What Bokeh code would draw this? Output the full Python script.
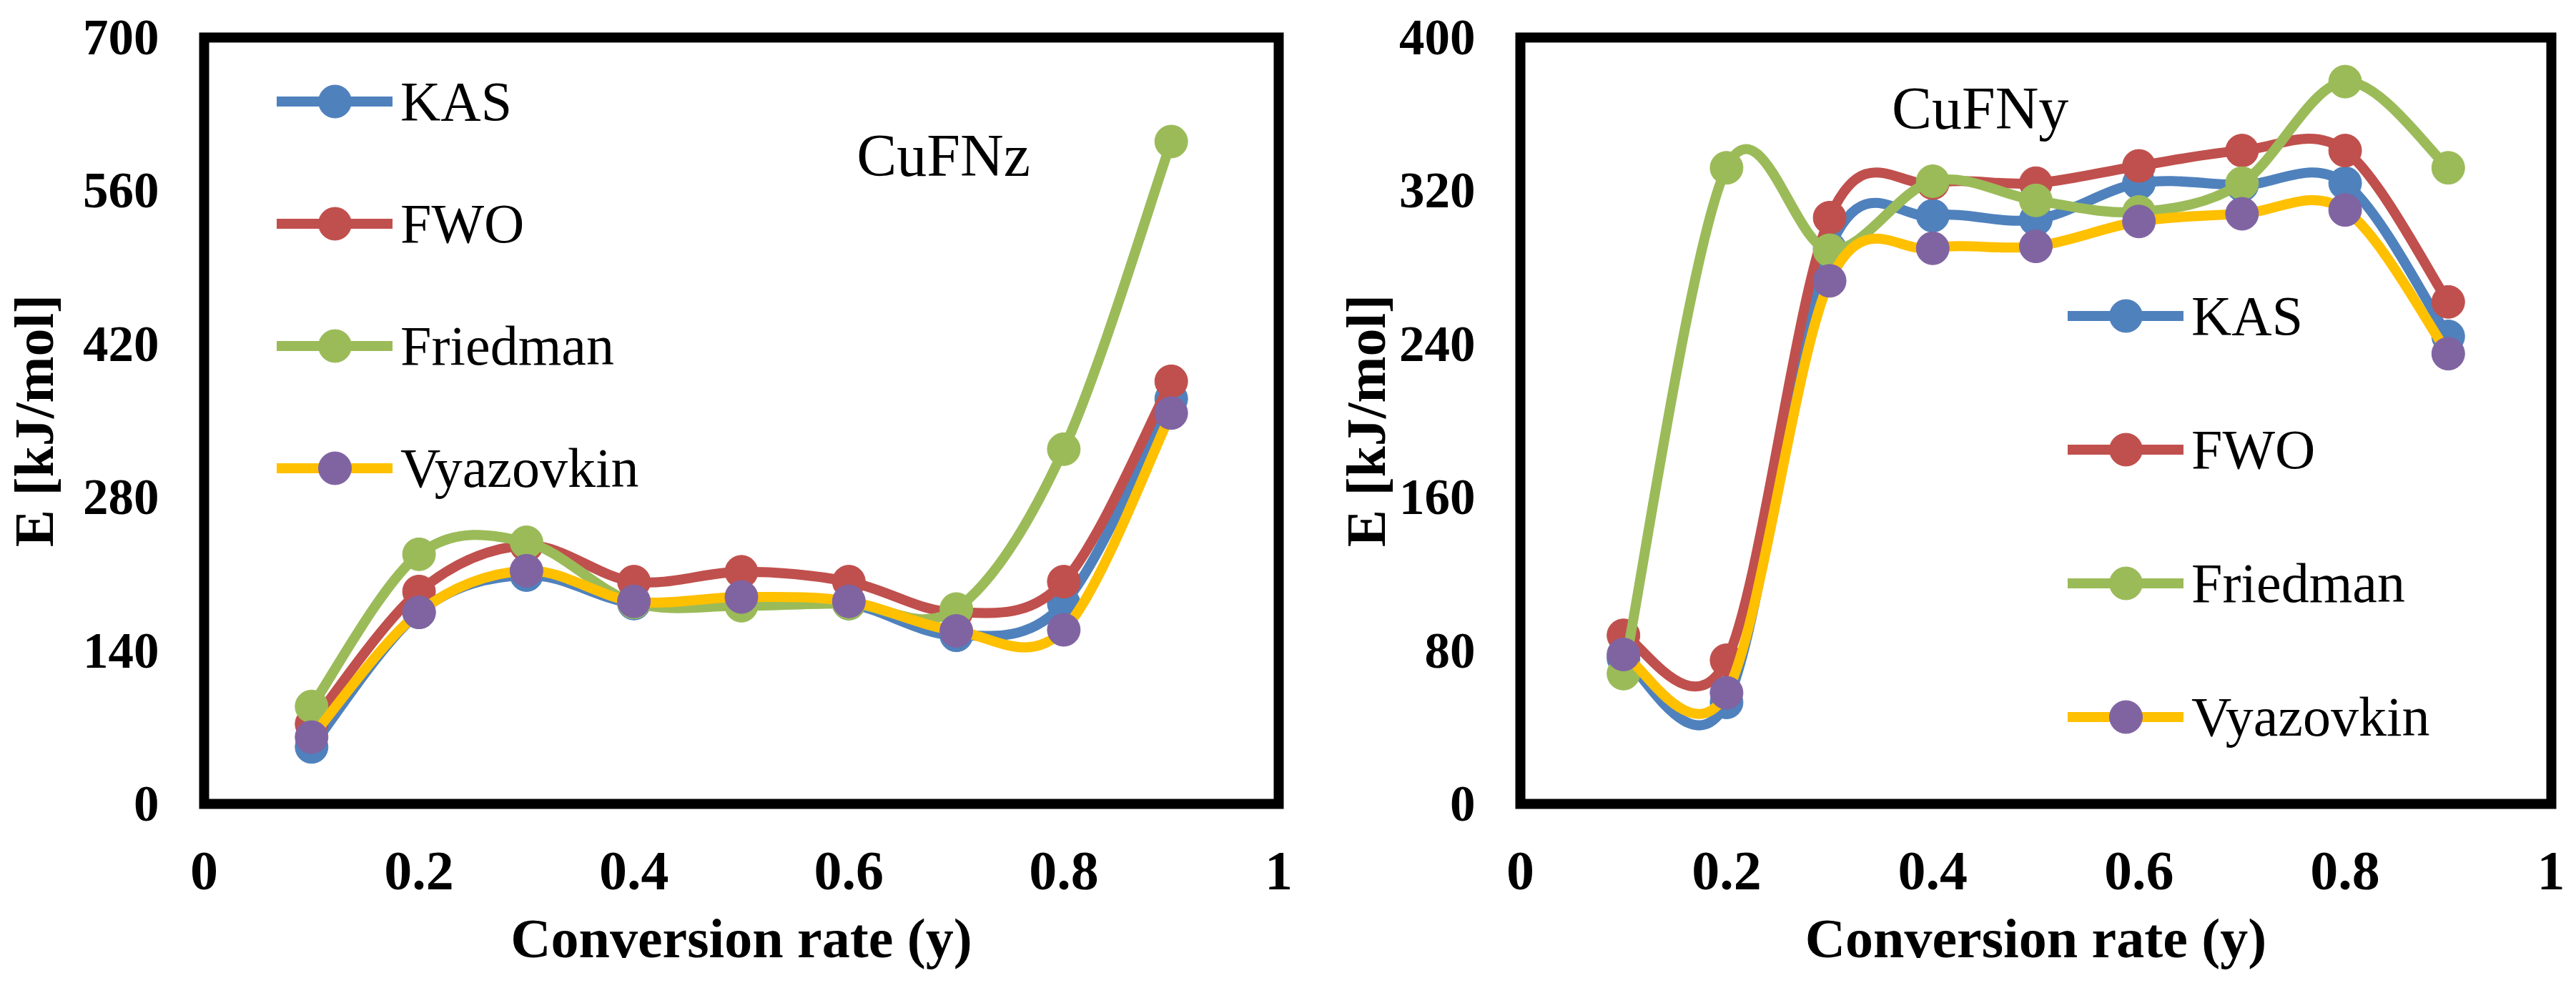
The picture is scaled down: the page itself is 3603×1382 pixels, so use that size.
import numpy as np
from bokeh.plotting import figure
from bokeh.models import Range1d, FixedTicker, Legend, LegendItem, Label
from bokeh.layouts import row
from bokeh.embed import file_html
from bokeh.resources import INLINE

# ---------------- data ----------------
conversion = [0.1, 0.2, 0.3, 0.4, 0.5, 0.6, 0.7, 0.8, 0.9]
series_names = ["KAS", "FWO", "Friedman", "Vyazovkin"]

# CuFNz (left panel)
cufnz_kas = [52, 175, 209, 183, 186, 183, 154, 183, 370]
cufnz_fwo = [73, 194, 236, 203, 212, 203, 175, 203, 386]
cufnz_friedman = [89, 228, 239, 184, 181, 183, 178, 324, 605]
cufnz_vyazovkin = [61, 175, 213, 185, 189, 185, 158, 159, 357]

# CuFNy (right panel)
cufny_kas = [76, 53, 290, 307, 305, 324, 323, 324, 244]
cufny_fwo = [88, 75, 306, 324, 324, 333, 341, 341, 262]
cufny_friedman = [68, 332, 289, 325, 315, 309, 324, 377, 332]
cufny_vyazovkin = [78, 58, 273, 290, 291, 304, 308, 310, 235]

x_ticks = [0, 0.2, 0.4, 0.6, 0.8, 1]
x_tick_labels = ["0", "0.2", "0.4", "0.6", "0.8", "1"]
cufnz_y_ticks = [0, 140, 280, 420, 560, 700]
cufny_y_ticks = [0, 80, 160, 240, 320, 400]

x_title = "Conversion rate (y)"
y_title = "E [kJ/mol]"
panel_labels = ["CuFNz", "CuFNy"]

line_colors = ["#4F81BD", "#C0504D", "#9BBB59", "#FFC000"]
marker_colors = ["#4F81BD", "#C0504D", "#9BBB59", "#8064A2"]

SERIF = "Liberation Serif"
LINE_W = 14
MARKER = 46


def smooth_segments(xs, ys):
    """Excel-like smoothed line: cubic Bezier segments (Catmull-Rom control points)."""
    x = np.asarray(xs, float)
    y = np.asarray(ys, float)
    xp = np.concatenate([[x[0]], x, [x[-1]]])
    yp = np.concatenate([[y[0]], y, [y[-1]]])
    n = len(x)
    return dict(
        x0=x[:-1], y0=y[:-1], x1=x[1:], y1=y[1:],
        cx0=x[:-1] + (xp[2:n + 1] - xp[0:n - 1]) / 6.0,
        cy0=y[:-1] + (yp[2:n + 1] - yp[0:n - 1]) / 6.0,
        cx1=x[1:] - (xp[3:n + 2] - xp[1:n]) / 6.0,
        cy1=y[1:] - (yp[3:n + 2] - yp[1:n]) / 6.0,
    )


def make_panel(width, ymax, yticks, series, label_text, label_pos, legend_loc,
               legend_spacing, borders):
    bl, br, bt, bb = borders
    p = figure(width=width, height=1366,
               x_range=Range1d(0, 1), y_range=Range1d(0, ymax),
               output_backend="svg", toolbar_location=None,
               min_border_left=bl, min_border_right=br,
               min_border_top=bt, min_border_bottom=bb,
               x_axis_label=x_title, y_axis_label=y_title)
    p.xgrid.visible = False
    p.ygrid.visible = False
    p.background_fill_color = "white"
    p.border_fill_color = "white"
    p.outline_line_color = "black"
    p.outline_line_width = 14
    p.outline_line_join = "miter"

    p.xaxis.ticker = FixedTicker(ticks=x_ticks)
    p.xaxis.major_label_overrides = {t: s for t, s in zip(x_ticks, x_tick_labels)}
    p.yaxis.ticker = FixedTicker(ticks=yticks)
    for ax in p.axis:
        ax.axis_line_color = None
        ax.major_tick_line_color = None
        ax.minor_tick_line_color = None
        ax.major_tick_out = 0
        ax.major_tick_in = 0
        ax.minor_tick_out = 0
        ax.minor_tick_in = 0
        ax.major_label_text_font = SERIF
        ax.major_label_text_font_style = "bold"
        ax.major_label_text_color = "black"
        ax.axis_label_text_font = SERIF
        ax.axis_label_text_font_style = "bold"
        ax.axis_label_text_font_size = "78px"
        ax.axis_label_text_color = "black"
    p.xaxis.major_label_text_font_size = "78px"
    p.xaxis.major_label_standoff = 68
    p.xaxis.axis_label_standoff = 22
    p.yaxis.major_label_text_font_size = "71px"
    p.yaxis.major_label_standoff = 63

    items = []
    for name, ys, lc, mc in zip(series_names, series, line_colors, marker_colors):
        seg = smooth_segments(conversion, ys)
        bz = p.bezier(source=seg, x0="x0", y0="y0", x1="x1", y1="y1",
                      cx0="cx0", cy0="cy0", cx1="cx1", cy1="cy1",
                      line_color=lc, line_width=LINE_W, line_cap="round")
        sc = p.scatter(conversion, ys, size=MARKER, marker="circle",
                       fill_color=mc, line_color=mc, line_width=1)
        items.append(LegendItem(label=name, renderers=[bz, sc]))

    legend = Legend(items=items, location=legend_loc, orientation="vertical",
                    glyph_width=162, glyph_height=115, label_height=115,
                    spacing=legend_spacing, padding=0, margin=0, label_standoff=11,
                    label_text_font=SERIF, label_text_font_size="78px",
                    label_text_color="black",
                    border_line_color=None, background_fill_alpha=0)
    p.add_layout(legend)

    p.add_layout(Label(x=label_pos[0], y=label_pos[1], text=label_text,
                       text_font=SERIF, text_font_size="84px", text_color="black",
                       text_align="center", text_baseline="middle"))
    return p


p1 = make_panel(1842, 700, cufnz_y_ticks,
                [cufnz_kas, cufnz_fwo, cufnz_friedman, cufnz_vyazovkin],
                panel_labels[0], (0.688, 592), (102, 412), 56,
                (280, 54, 33, 242))
p1.yaxis.axis_label_standoff = 22

p2 = make_panel(1745, 400, cufny_y_ticks,
                [cufny_kas, cufny_fwo, cufny_friedman, cufny_vyazovkin],
                panel_labels[1], (0.446, 363), (766, 64), 72,
                (284, 19, 52, 240))
p2.yaxis.axis_label_standoff = 0

layout = row(p1, p2)
open("out.html", "w").write(file_html(layout, INLINE))
